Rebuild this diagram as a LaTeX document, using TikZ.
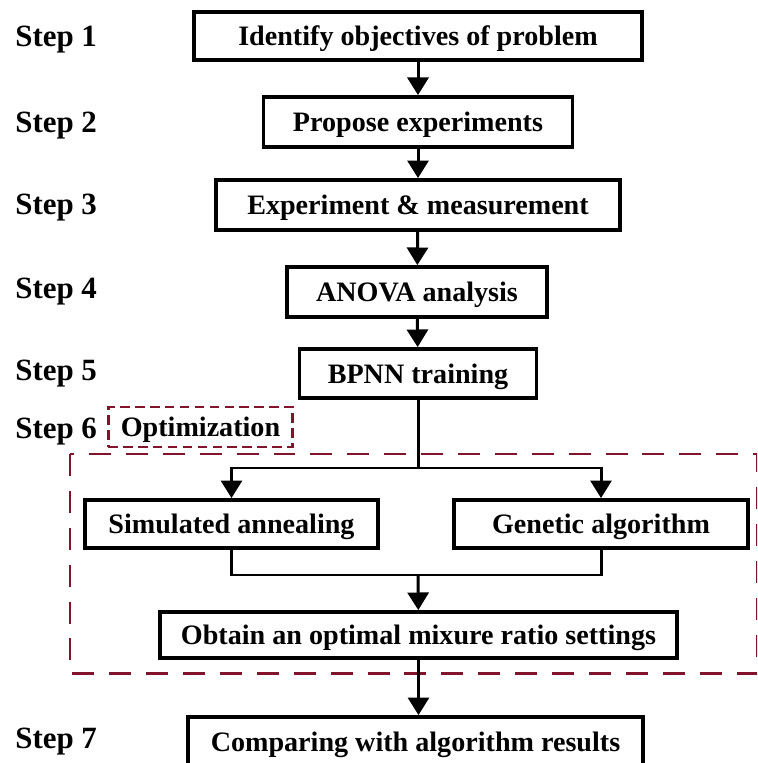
\documentclass[tikz,border=0pt]{standalone}
\usepackage{fontspec}
\setmainfont{Liberation Serif}
\usepackage{xcolor}
\usepackage{tikz}
\usetikzlibrary{arrows.meta, positioning, calc}

\definecolor{optred}{RGB}{128,20,42}

\begin{document}
\begin{tikzpicture}[
    x=0.02cm, y=-0.02cm,
    stepbox/.style={rectangle, draw, line width=2.2pt, inner sep=0pt, text height=11pt, text depth=0pt, align=center, font=\fontsize{16}{19}\selectfont\bfseries},
    steplbl/.style={anchor=west, inner sep=0pt, text height=12pt, text depth=0pt, font=\fontsize{17.6}{20}\selectfont\bfseries},
    arrow/.style={-{Triangle[length=10pt, width=12pt]}, line width=1.7pt},
    wire/.style={line width=1.7pt},
    optbox/.style={rectangle, draw=optred, line width=1.7pt, dash pattern=on 5.5pt off 3pt, inner sep=0pt, text height=11pt, text depth=0pt, minimum width=3.7cm, minimum height=0.8cm, font=\fontsize{16}{19}\selectfont\bfseries},
    region/.style={draw=optred, line width=1.7pt, dash pattern=on 12.5pt off 8.5pt},
]
\clip (0,0) rectangle (757,763);

% step labels
\node[steplbl] (step1) at (15,36) {Step 1};
\node[steplbl] (step2) at (15,122) {Step 2};
\node[steplbl] (step3) at (15,204) {Step 3};
\node[steplbl] (step4) at (15,288) {Step 4};
\node[steplbl] (step5) at (15,370) {Step 5};
\node[steplbl] (step6) at (15,428) {Step 6};
\node[steplbl] (step7) at (15,738) {Step 7};

% main column
\node[stepbox, minimum width=8.96cm, minimum height=0.96cm] (ident) at (418,36) {Identify objectives of problem};
\node[stepbox, minimum width=6.18cm, minimum height=1cm] (propose) at (418,122) {Propose experiments};
\node[stepbox, minimum width=8.08cm, minimum height=1cm] (exper) at (418,205) {Experiment \& measurement};
\node[stepbox, minimum width=5.2cm, minimum height=1cm] (anova) at (417,292) {ANOVA analysis};
\node[stepbox, minimum width=4.74cm, minimum height=0.98cm] (bpnn) at (418,373.5) {BPNN training};

% optimization part
\node[optbox] (opt) at (200.5,427) {Optimization};
\draw[region] (70,454) rectangle (757,673);
\node[stepbox, minimum width=5.86cm, minimum height=0.96cm] (sa) at (231.5,524) {Simulated annealing};
\node[stepbox, minimum width=5.88cm, minimum height=0.96cm] (ga) at (601,524) {Genetic algorithm};
\node[stepbox, minimum width=10.34cm, minimum height=0.92cm] (obtain) at (418.5,635) {Obtain an optimal mixure ratio settings};
\node[stepbox, minimum width=9.1cm, minimum height=1cm] (compare) at (415.5,742) {Comparing with algorithm results};

\coordinate (split) at (418,468);
\coordinate (merge) at (418,575);

\draw[arrow] (ident) -- (propose);
\draw[arrow] (propose) -- (exper);
\draw[arrow] (exper) -- (anova);
\draw[arrow] (anova) -- (bpnn);
\draw[wire] (bpnn) -- (split);
\draw[arrow] (split) -| (sa);
\draw[arrow] (split) -| (ga);
\draw[wire] (sa) |- (merge);
\draw[wire] (ga) |- (merge);
\draw[arrow] (merge) -- (obtain);
\draw[arrow] (obtain) -- (obtain |- compare.north);
\end{tikzpicture}
\end{document}
